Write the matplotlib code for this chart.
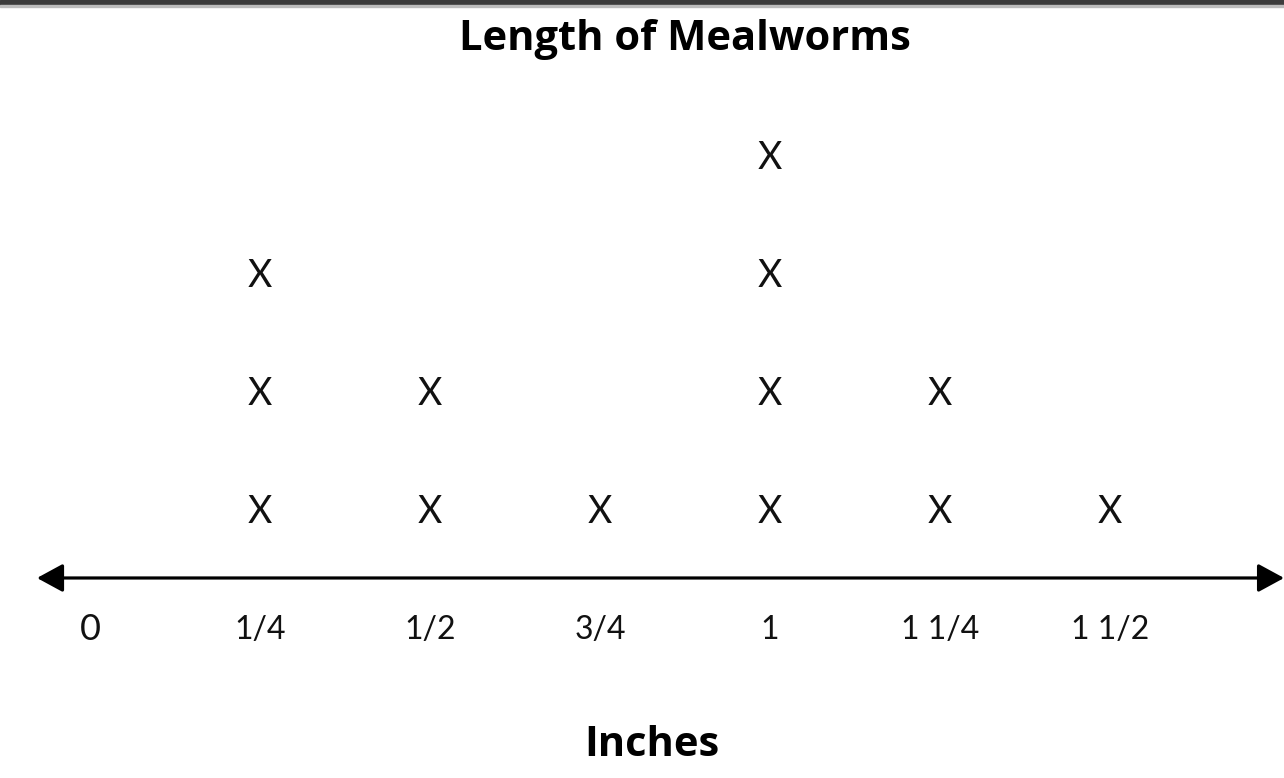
import matplotlib
matplotlib.use("Agg")
import matplotlib.pyplot as plt
from matplotlib.patches import FancyArrowPatch, ArrowStyle

# Data
lengths = [0.25, 0.5, 0.75, 1.0, 1.25, 1.5]
counts = [3, 2, 1, 4, 2, 1]
tick_values = [0, 0.25, 0.5, 0.75, 1.0, 1.25, 1.5]
tick_labels = ["0", "1/4", "1/2", "3/4", "1", "1 1/4", "1 1/2"]
title = "Length of Mealworms"
xlabel = "Inches"

FONT = ["Lato", "DejaVu Sans"]
BFONT = ["Open Sans", "DejaVu Sans"]

fig = plt.figure(figsize=(12.84, 7.78), dpi=100)
fig.patch.set_facecolor("white")
ax = fig.add_axes([0, 0, 1, 1])
ax.set_xlim(-0.1324, 1.7559)
ax.set_ylim(-1.254, 5.339)
ax.axis("off")

# top dark border
fig.add_artist(plt.Rectangle((0, 1 - 5/778), 1, 5/778, transform=fig.transFigure,
                             color="#3c3c3c", zorder=5))
fig.add_artist(plt.Rectangle((0, 1 - 7/778), 1, 2/778, transform=fig.transFigure,
                             color="#bdbdbd", zorder=5))

# X marks
for v, c in zip(lengths, counts):
    for k in range(1, c + 1):
        ax.text(v, k, "X", ha="center", va="center", fontsize=27,
                family=FONT, color="#111111")

# number line with arrows
axis_y = 0.441
arrow = FancyArrowPatch((-0.078, axis_y), (1.756, axis_y),
                        arrowstyle=ArrowStyle("<|-|>", head_length=0.57, head_width=0.31),
                        mutation_scale=28, color="black", lw=2.3,
                        shrinkA=0, shrinkB=0)
ax.add_patch(arrow)

# tick labels
for v, lab in zip(tick_values, tick_labels):
    fs = 26 if lab == "0" else 23
    ax.text(v, axis_y - 0.44, lab, ha="center", va="center", fontsize=fs,
            family=FONT, color="#111111")

ax.text(685/1284, 1 - 39/778, title, transform=fig.transFigure, ha="center",
        va="center", fontsize=30, fontweight="bold", family=BFONT)
ax.text(652/1284, 1 - 745/778, xlabel, transform=fig.transFigure, ha="center",
        va="center", fontsize=30, fontweight="bold", family=BFONT)

fig.savefig("out.png", dpi=100, facecolor="white")
